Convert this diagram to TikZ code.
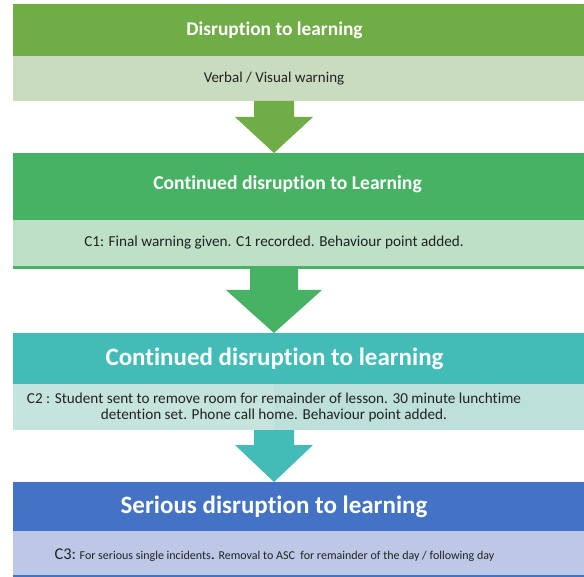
\documentclass[tikz,border=0pt]{standalone}
\usepackage{fontspec}
\setmainfont[Ligatures=NoCommon]{Carlito}
\usetikzlibrary{calc}
\definecolor{hA}{HTML}{70AD47}
\definecolor{bA}{HTML}{C9DCBF}
\definecolor{hB}{HTML}{47B263}
\definecolor{bB}{HTML}{BDE0C7}
\definecolor{hC}{HTML}{43BBB6}
\definecolor{bC}{HTML}{BDE0DA}
\definecolor{bCl}{HTML}{C6E4DE}
\definecolor{hD}{HTML}{4472C4}
\definecolor{bD}{HTML}{BCC8E6}
\definecolor{txt}{HTML}{222222}
\newcommand\blkarrow[6]{%
  \fill[#1] (#2) ++(-#4,0) |- ++({#4-#5},#6) -- (#3) -- ($(#2)+(#5,#6)$) -- ++({#4-#5},0) -- ++(0,-#6) -- cycle;}
\tikzset{
  band/.style={rectangle, inner sep=0pt, outer sep=0pt, anchor=north west, minimum width=590pt},
  head/.style={text=white, font=\bfseries, inner sep=0pt},
  body/.style={text=txt, inner sep=0pt, align=center},
}
\begin{document}
\begin{tikzpicture}[x=1pt,y=-1pt]
\path[use as bounding box] (0,0) rectangle (584,577);
\clip (0,0) rectangle (584,577);
% bands
\node[band, fill=hA, minimum height=52pt] (H1) at (13,4) {};
\node[band, fill=bA, minimum height=45pt] (B1) at (13,56) {};
\node[band, fill=hB, minimum height=67pt] (H2) at (13,153) {};
\node[band, fill=bB, minimum height=46pt] (B2) at (13,220) {};
\node[band, fill=hB, minimum height=3pt] (L2) at (13,266) {};
\node[band, fill=hC, minimum height=51pt] (H3) at (13,333) {};
\node[band, fill=bC, minimum height=46pt] (B3) at (13,384) {};
\fill[bCl] (B3.north west) rectangle (274,430);
\node[band, fill=hD, minimum height=48pt] (H4) at (13,482) {};
\node[band, fill=bD, minimum height=47pt] (B4) at (13,530) {};
\draw[hD, line width=1pt] (B4.north west) -- (B4.north east);
\draw[hD, line width=1.5pt] (13,576) -- (600,576);
% arrows
\coordinate (a1s) at (274,0 |- B1.south);
\coordinate (a1t) at (274,0 |- H2.north);
\coordinate (a2s) at (274,0 |- L2.south);
\coordinate (a2t) at (274,0 |- H3.north);
\coordinate (a3s) at (274,0 |- B3.south);
\coordinate (a3t) at (274,0 |- H4.north);
\blkarrow{hA}{a1s}{a1t}{20}{39}{16}
\blkarrow{hB}{a2s}{a2t}{24}{48}{21}
\blkarrow{hC}{a3s}{a3t}{20}{39}{15}
% texts
\node[head, font=\fontsize{19.4}{22}\selectfont\bfseries] (t1) at (274.5,30) {Disruption to learning};
\node[body, font=\fontsize{15}{18}\selectfont] (s1) at (274,79) {Verbal / Visual warning};
\node[head, font=\fontsize{19.6}{22}\selectfont\bfseries] (t2) at (287.5,184) {Continued disruption to Learning};
\node[body, font=\fontsize{15.2}{18}\selectfont] (s2) at (274,243) {C1: Final warning given. C1 recorded. Behaviour point added.};
\node[head, font=\fontsize{25}{28}\selectfont\bfseries] (t3) at (274.5,359) {Continued disruption to learning};
\node[body, font=\fontsize{15.2}{15.2}\selectfont] (s3) at (274,407.5) {C2 : Student sent to remove room for remainder of lesson. 30 minute lunchtime\\detention set. Phone call home. Behaviour point added.};
\node[head, font=\fontsize{25}{28}\selectfont\bfseries] (t4) at (274,507) {Serious disruption to learning};
\node[body, font=\fontsize{12}{15}\selectfont] (s4) at (274.5,555) {{\fontsize{16.4}{18}\selectfont C3:} For serious single incidents{\fontsize{16.4}{18}\selectfont .} Removal to ASC\ \ for remainder of the day / following day};
\end{tikzpicture}
\end{document}
